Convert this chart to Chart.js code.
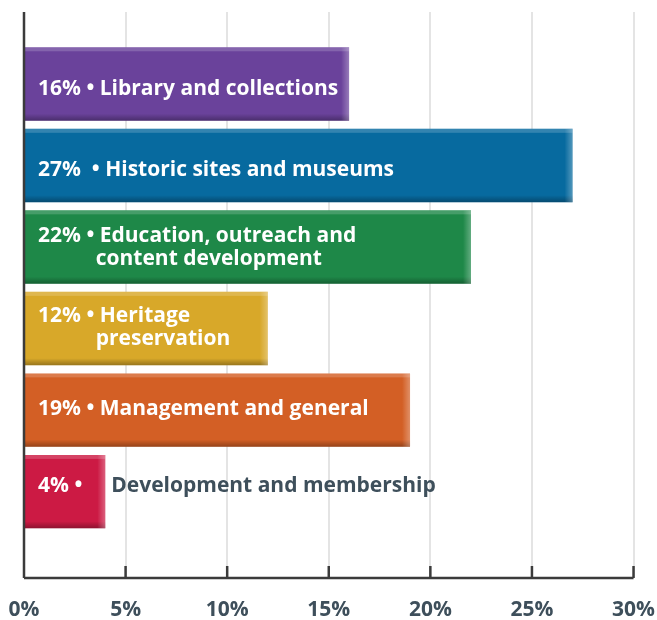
<!DOCTYPE html>
<html>
<head>
<meta charset="utf-8">
<script src="https://cdn.jsdelivr.net/npm/chart.js@4.4.1/dist/chart.umd.min.js"></script>
<style>
  html, body { margin: 0; padding: 0; background: #ffffff; }
  #wrap { width: 657px; height: 620px; position: relative; }
</style>
</head>
<body>
<div id="wrap"><canvas id="c" width="657" height="620"></canvas></div>
<script>
// ---- data ----
const categories = [
  'Library and collections',
  'Historic sites and museums',
  'Education, outreach and content development',
  'Heritage preservation',
  'Management and general',
  'Development and membership'
];
const values = [16, 27, 22, 12, 19, 4];
const pctLabels = ['16%', '27% ', '22%', '12%', '19%', '4%'];
const nameLines = [
  ['Library and collections'],
  ['Historic sites and museums'],
  ['Education, outreach and', 'content development'],
  ['Heritage', 'preservation'],
  ['Management and general'],
  ['Development and membership']
];
const xTicks = [0, 5, 10, 15, 20, 25, 30];
const barColors = ['#6a429b', '#076a9f', '#1e8848', '#d8a829', '#d35f25', '#cc1a44'];

// ---- style ----
const FONT = '"Open Sans", "DejaVu Sans", sans-serif';
const LABEL_NUDGE = [5, 4.5, 0, -1.5, -1, -5.5]; // vertical text nudge per bar (px)

const bevelPlugin = {
  id: 'bevel',
  afterDatasetsDraw(chart) {
    const ctx = chart.ctx;
    const meta = chart.getDatasetMeta(0);
    meta.data.forEach((bar, i) => {
      const p = bar.getProps(['x', 'y', 'base', 'height'], true);
      const top = p.y - p.height / 2, bot = p.y + p.height / 2;
      const left = p.base, right = p.x;
      ctx.save();
      ctx.fillStyle = 'rgba(255,255,255,0.18)';
      ctx.fillRect(left, top, right - left, 4);
      const gb = ctx.createLinearGradient(0, bot - 7, 0, bot);
      gb.addColorStop(0, 'rgba(0,0,0,0)');
      gb.addColorStop(1, 'rgba(0,0,0,0.30)');
      ctx.fillStyle = gb;
      ctx.fillRect(left, bot - 7, right - left, 7);
      const gr = ctx.createLinearGradient(right - 8, 0, right, 0);
      gr.addColorStop(0, 'rgba(255,255,255,0)');
      gr.addColorStop(1, 'rgba(255,255,255,0.30)');
      ctx.fillStyle = gr;
      ctx.fillRect(right - 8, top, 8, bot - top);
      ctx.restore();
    });
  }
};

const axisPlugin = {
  id: 'axisDeco',
  afterDraw(chart) {
    const ctx = chart.ctx;
    const xs = chart.scales.x;
    const a = chart.chartArea;
    ctx.save();
    ctx.strokeStyle = '#3b3b3b';
    ctx.lineWidth = 2.5;
    ctx.beginPath();
    ctx.moveTo(xs.getPixelForValue(0), a.top);
    ctx.lineTo(xs.getPixelForValue(0), a.bottom);
    ctx.stroke();
    ctx.beginPath();
    ctx.moveTo(xs.getPixelForValue(0), a.bottom);
    ctx.lineTo(xs.getPixelForValue(30), a.bottom);
    ctx.stroke();
    xTicks.slice(1).forEach(t => {
      const px = xs.getPixelForValue(t);
      ctx.beginPath();
      ctx.moveTo(px, a.bottom - 12);
      ctx.lineTo(px, a.bottom);
      ctx.stroke();
    });
    ctx.restore();
  }
};

const labelPlugin = {
  id: 'barLabels',
  afterDatasetsDraw(chart) {
    const ctx = chart.ctx;
    const meta = chart.getDatasetMeta(0);
    ctx.save();
    ctx.font = '700 21px ' + FONT;
    ctx.textBaseline = 'middle';
    ctx.textAlign = 'left';
    meta.data.forEach((bar, i) => {
      const p = bar.getProps(['x', 'y', 'base'], true);
      const x0 = p.base + 13;
      const lines = nameLines[i];
      const lh = 23;
      const yStart = p.y + LABEL_NUDGE[i] - (lines.length - 1) * lh / 2;
      const prefix = pctLabels[i] + ' \u2022 ';
      ctx.fillStyle = '#ffffff';
      ctx.fillText(prefix, x0, yStart);
      let nx = x0 + ctx.measureText(prefix).width;
      const fits = nx + ctx.measureText(lines[0]).width < p.x - 4;
      if (!fits) {
        nx = p.x + 6;
        ctx.fillStyle = '#3e4f5b';
      }
      lines.forEach((ln, k) => {
        ctx.fillText(ln, nx - (k > 0 ? 4 : 0), yStart + k * lh);
      });
    });
    ctx.restore();
  }
};

new Chart(document.getElementById('c'), {
  type: 'bar',
  data: {
    labels: categories,
    datasets: [{
      data: values.map((v, i) => ({ x: v, y: i })),
      backgroundColor: values.map((v, i) => barColors[i]),
      borderWidth: 0,
      barPercentage: 0.9,
      categoryPercentage: 1.0
    }]
  },
  options: {
    indexAxis: 'y',
    responsive: false,
    animation: false,
    devicePixelRatio: 1,
    layout: { padding: { left: 24, right: 21, top: 12, bottom: 0 } },
    plugins: { legend: { display: false }, tooltip: { enabled: false } },
    scales: {
      y: {
        type: 'linear',
        display: false,
        offset: false,
        grid: { offset: false },
        reverse: true,
        min: -0.883,
        max: 6.06,
        afterBuildTicks: s => { s.ticks = values.map((v, i) => ({ value: i })); }
      },
      x: {
        type: 'linear',
        min: 0,
        max: 30,
        afterBuildTicks: s => { s.ticks = xTicks.map(v => ({ value: v })); },
        afterFit: s => { s.height = 42; },
        border: { display: false },
        grid: { color: '#e4e4e4', lineWidth: 2, drawTicks: true, tickLength: 20, tickColor: 'rgba(0,0,0,0)' },
        ticks: {
          padding: 2,
          color: '#3e4f5b',
          font: { family: FONT, weight: '700', size: 21, lineHeight: 1 },
          callback: v => v + '%'
        }
      }
    }
  },
  plugins: [bevelPlugin, labelPlugin, axisPlugin]
});
</script>
</body>
</html>
